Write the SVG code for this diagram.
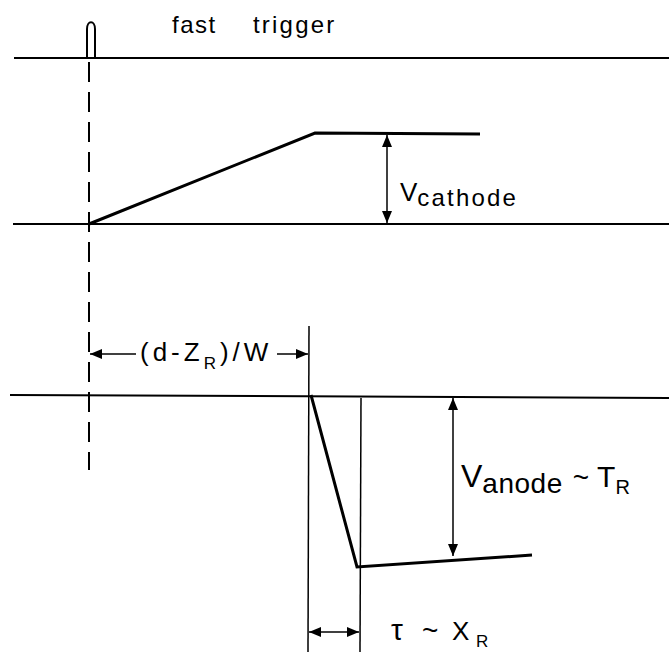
<svg xmlns="http://www.w3.org/2000/svg" width="669" height="652" viewBox="0 0 669 652">
<style>
.base{stroke:#000;stroke-width:2;fill:none}
.wave{stroke:#000;stroke-width:3;fill:none;stroke-linejoin:miter}
.thin{stroke:#000;stroke-width:1.5;fill:none}
.dash{stroke:#000;stroke-width:2;fill:none;stroke-dasharray:20 10}
.arr{stroke:#000;stroke-width:1.5;fill:none;marker-end:url(#ah)}
.arr2{stroke:#000;stroke-width:1.5;fill:none;marker-start:url(#ah);marker-end:url(#ah)}
text{font-family:"Liberation Sans",Arial,sans-serif;fill:#000}
</style>
<defs>
<marker id="ah" viewBox="0 0 12 10" refX="12" refY="5" markerWidth="12" markerHeight="10" markerUnits="userSpaceOnUse" orient="auto-start-reverse">
<path d="M0,0 L12,5 L0,10 z" fill="#000"/>
</marker>
</defs>
<rect width="669" height="652" fill="#fff"/>
<g id="trigger">
<line class="base" x1="14" y1="58" x2="669" y2="58"/>
<path class="base" d="M87,58 V29 C87,20 95,20 95,29 V58"/>
<text x="172" y="33" font-size="24" letter-spacing="1.5">fast</text>
<text x="253" y="33" font-size="24" letter-spacing="2.2">trigger</text>
</g>
<g id="cathode">
<line class="base" x1="13" y1="224" x2="669" y2="224"/>
<polyline class="wave" points="89,224 315,133 480,134"/>
<text x="400" y="201" font-size="26">V<tspan dy="5" font-size="24" letter-spacing="2.2">cathode</tspan></text>
</g>
<g id="anode">
<line class="base" x1="10" y1="395" x2="669" y2="398"/>
<polyline class="wave" points="311,395 357,567 532,555"/>
<text x="461" y="487" font-size="32">V<tspan dy="6" font-size="28" letter-spacing="0.5">anode</tspan><tspan dx="10" dy="-6" font-size="28">~</tspan><tspan dx="8" font-size="30">T</tspan><tspan dy="7" font-size="20">R</tspan></text>
</g>
<g id="delay-label">
<text x="140" y="361" font-size="26" letter-spacing="4">(d-Z<tspan dy="8" font-size="17">R</tspan><tspan dy="-8">)/W</tspan></text>
</g>
<g id="tau-label">
<text x="391" y="640" font-size="30">τ<tspan x="422" font-size="28">~</tspan><tspan x="452" font-size="26">X</tspan><tspan x="476" dy="7" font-size="17">R</tspan></text>
</g>
<g id="connectors">
<line class="dash" x1="89" y1="62" x2="89" y2="470"/>
<line class="thin" x1="309" y1="326" x2="308" y2="652"/>
<line class="thin" x1="361" y1="398" x2="360" y2="652"/>
<line class="arr2" x1="387" y1="135" x2="387" y2="223"/>
<line class="arr2" x1="453" y1="398" x2="453" y2="556"/>
<line class="arr" x1="136" y1="354" x2="90" y2="354"/>
<line class="arr" x1="277" y1="354" x2="308" y2="354"/>
<line class="arr2" x1="309" y1="632" x2="359" y2="632"/>
</g>
</svg>
